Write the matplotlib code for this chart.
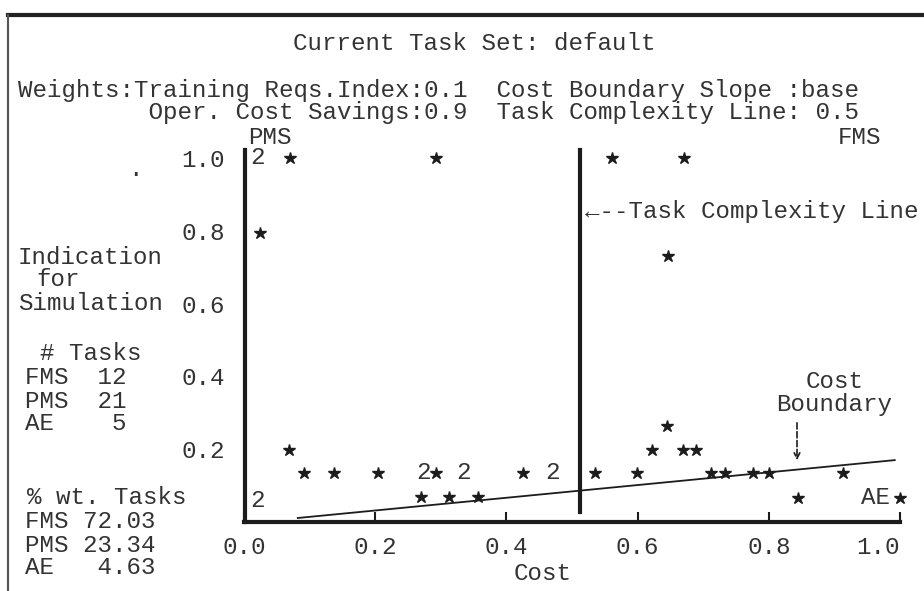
import matplotlib
matplotlib.use("Agg")
import matplotlib.pyplot as plt
from matplotlib.lines import Line2D

# pixel helpers for the text layout (printout is laid out on a character grid)
W, H = 924, 591
def fx(px):
	return px / W
def fy(py):
	return 1 - py / H

MONO = ["Liberation Mono", "DejaVu Sans Mono"]
FS = 17.4
INK = "#1c1c1c"

# tasks left of the complexity line (PMS side)
pms_x = [0.070, 0.293, 0.024, 0.069, 0.091, 0.137, 0.204, 0.293, 0.425, 0.270, 0.313, 0.357]
pms_y = [1.0, 1.0, 0.795, 0.198, 0.135, 0.135, 0.135, 0.135, 0.135, 0.069, 0.069, 0.069]
# tasks right of the complexity line (FMS side + AE below boundary)
fms_x = [0.561, 0.670, 0.646, 0.645, 0.622, 0.669, 0.689, 0.535, 0.599, 0.712, 0.733, 0.776, 0.800, 0.913, 0.845, 1.000]
fms_y = [1.0, 1.0, 0.731, 0.264, 0.198, 0.198, 0.198, 0.135, 0.135, 0.135, 0.135, 0.135, 0.135, 0.135, 0.066, 0.066]
# positions where two tasks overlap (printed as "2")
dup_x = [0.021, 0.273, 0.335, 0.470, 0.021]
dup_y = [1.0, 0.135, 0.135, 0.135, 0.060]
dup_lbl = ["2", "2", "2", "2", "2"]

boundary_x = [0.082, 0.992]
boundary_y = [0.011, 0.170]
complexity_x = 0.512

xticks = [0.0, 0.2, 0.4, 0.6, 0.8, 1.0]
xtick_lbl = ["0.0", "0.2", "0.4", "0.6", "0.8", "1.0"]
yticks = [0.2, 0.4, 0.6, 0.8, 1.0]
ytick_lbl = ["0.2", "0.4", "0.6", "0.8", "1.0"]

header = ["Weights:Training Reqs.Index:0.1  Cost Boundary Slope :base",
		  "         Oper. Cost Savings:0.9  Task Complexity Line: 0.5"]
left_lbl = [("Indication", 18, 257), ("for", 36, 280), ("Simulation", 18, 304),
			("# Tasks", 40, 353), ("FMS  12", 25, 378), ("PMS  21", 25, 401), ("AE    5", 25, 424),
			("% wt. Tasks", 27, 497), ("FMS 72.03", 25, 521), ("PMS 23.34", 25, 545), ("AE   4.63", 25, 568)]

fig = plt.figure(figsize=(9.24, 5.91), dpi=100)
fig.patch.set_facecolor("white")
ax = fig.add_axes([fx(244), fy(522), (900 - 244) / W, (522 - 158) / H])
ax.set_xlim(0, 1)
ax.set_ylim(0, 1)
ax.patch.set_alpha(0)

for s in ["top", "right", "left"]:
	ax.spines[s].set_visible(False)
ax.spines["bottom"].set_linewidth(3)
ax.spines["bottom"].set_color(INK)

ax.set_xticks(xticks)
ax.set_xticklabels(xtick_lbl, family=MONO, fontsize=FS, color="#333")
ax.set_yticks(yticks)
ax.set_yticklabels(ytick_lbl, family=MONO, fontsize=FS, color="#333")
ax.tick_params(axis="x", direction="in", length=7, width=1.5, pad=10, colors=INK)
ax.tick_params(axis="y", length=0, pad=14)
for t in ax.get_xticklabels() + ax.get_yticklabels():
	t.set_color("#333")
ax.get_xticklabels()[-1].set_ha("right")
ax.get_xticklabels()[-1].set_x(1.02)

# PMS edge and task complexity line
ax.plot([0.0015, 0.0015], [0, 1.022], color=INK, lw=3, clip_on=False)
ax.plot([complexity_x, complexity_x], [0.027, 1.022], color=INK, lw=3, clip_on=False)

# cost boundary
ax.plot(boundary_x, boundary_y, color=INK, lw=1.3, clip_on=False)

ax.plot(pms_x, pms_y, ls="none", marker="*", ms=9, color=INK, clip_on=False)
ax.plot(fms_x, fms_y, ls="none", marker="*", ms=9, color=INK, clip_on=False)
for x, y, s in zip(dup_x, dup_y, dup_lbl):
	ax.text(x, y, s, family=MONO, fontsize=FS, color="#333", ha="center", va="center")

ax.annotate("", xy=(0.843, 0.162), xytext=(0.843, 0.28),
			arrowprops=dict(arrowstyle="->", ls="--", lw=1.2, color=INK))
ax.text(0.90, 0.385, "Cost", family=MONO, fontsize=FS, color="#333", ha="center", va="center")
ax.text(0.90, 0.322, "Boundary", family=MONO, fontsize=FS, color="#333", ha="center", va="center")
ax.text(0.985, 0.068, "AE", family=MONO, fontsize=FS, color="#333", ha="right", va="center")
ax.text(complexity_x + 0.008, 0.852, "\u2190--Task Complexity Line", family=MONO, fontsize=FS,
		color="#333", ha="left", va="center", clip_on=False)

# header and side text
fig.text(fx(474), fy(43), "Current Task Set: default", family=MONO, fontsize=FS, color="#333", ha="center", va="center")
fig.text(fx(18), fy(91), header[0], family=MONO, fontsize=FS, color="#333", ha="left", va="center")
fig.text(fx(18), fy(113), header[1], family=MONO, fontsize=FS, color="#333", ha="left", va="center")
fig.text(fx(270), fy(137), "PMS", family=MONO, fontsize=FS, color="#333", ha="center", va="center")
fig.text(fx(860), fy(137), "FMS", family=MONO, fontsize=FS, color="#333", ha="center", va="center")
fig.text(fx(135), fy(170), ".", family=MONO, fontsize=FS, color="#333", ha="center", va="center")
for s, px, py in left_lbl:
	fig.text(fx(px), fy(py), s, family=MONO, fontsize=FS, color="#333", ha="left", va="center")
fig.text(fx(543), fy(573), "Cost", family=MONO, fontsize=FS, color="#333", ha="center", va="center")

# page border of the printout
fig.add_artist(Line2D([fx(8), 1], [fy(15), fy(15)], color="#222", lw=3))
fig.add_artist(Line2D([fx(8), fx(8)], [fy(15), 0], color="#555", lw=1.5))

fig.savefig("out.png", dpi=100, facecolor="white")
